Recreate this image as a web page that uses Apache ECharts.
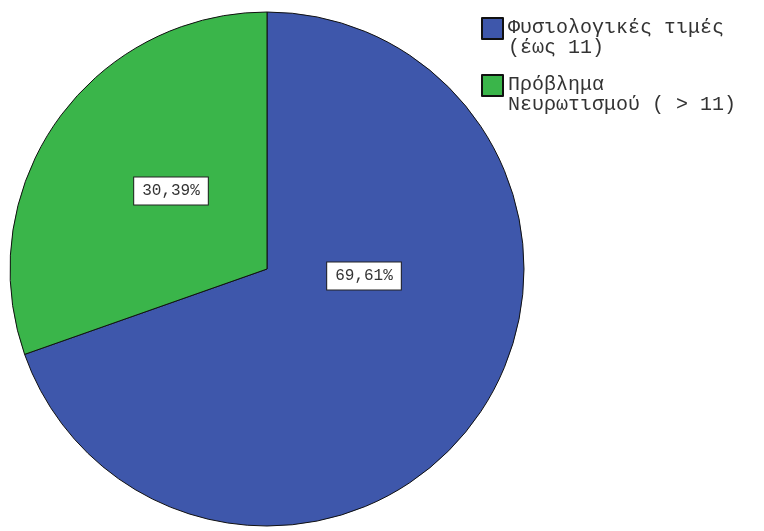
<!DOCTYPE html>
<html>
<head>
<meta charset="utf-8">
<script src="https://cdn.jsdelivr.net/npm/echarts@6/dist/echarts.min.js"></script>
<style>html,body{margin:0;padding:0;background:#fff;}#c{width:764px;height:531px;}</style>
</head>
<body>
<div id="c"></div>
<script>
var categories = ['Φυσιολογικές τιμές\n(έως 11)', 'Πρόβλημα\nΝευρωτισμού ( > 11)'];
var values = [69.61, 30.39];
var colors = ['#3E57AB', '#3AB54A'];

var chart = echarts.init(document.getElementById('c'), null, {renderer: 'canvas'});
var labelCenters = [[364, 276], [171, 191]];
chart.setOption({
  backgroundColor: '#ffffff',
  animation: false,
  color: colors,
  legend: {
    orient: 'vertical',
    left: 476,
    top: 12,
    itemWidth: 21,
    itemHeight: 40,
    itemGap: 15,
    icon: 'path://M0,0h1v1h-1z M0,1.9',
    selectedMode: false,
    textStyle: {
      fontFamily: 'Liberation Mono, DejaVu Sans Mono, monospace',
      fontSize: 20,
      lineHeight: 20,
      color: '#333'
    },
    data: categories
  },
  series: [{
    type: 'pie',
    center: [267, 269],
    radius: 257,
    startAngle: 90,
    clockwise: true,
    silent: true,
    itemStyle: {borderColor: '#111', borderWidth: 1},
    label: {
      show: true,
      position: 'inside',
      formatter: function (p) { return p.value.toFixed(2).replace('.', ',') + '%'; },
      fontFamily: 'Liberation Mono, DejaVu Sans Mono, monospace',
      fontSize: 16,
      color: '#333',
      backgroundColor: '#fff',
      borderColor: '#222',
      borderWidth: 1,
      padding: [6, 8, 5, 8]
    },
    labelLayout: function (p) {
      var c = labelCenters[p.dataIndex];
      return {x: c[0], y: c[1], align: 'center', verticalAlign: 'middle'};
    },
    labelLine: {show: false},
    data: categories.map(function (n, i) { return {name: n, value: values[i]}; })
  }]
});
</script>
</body>
</html>
